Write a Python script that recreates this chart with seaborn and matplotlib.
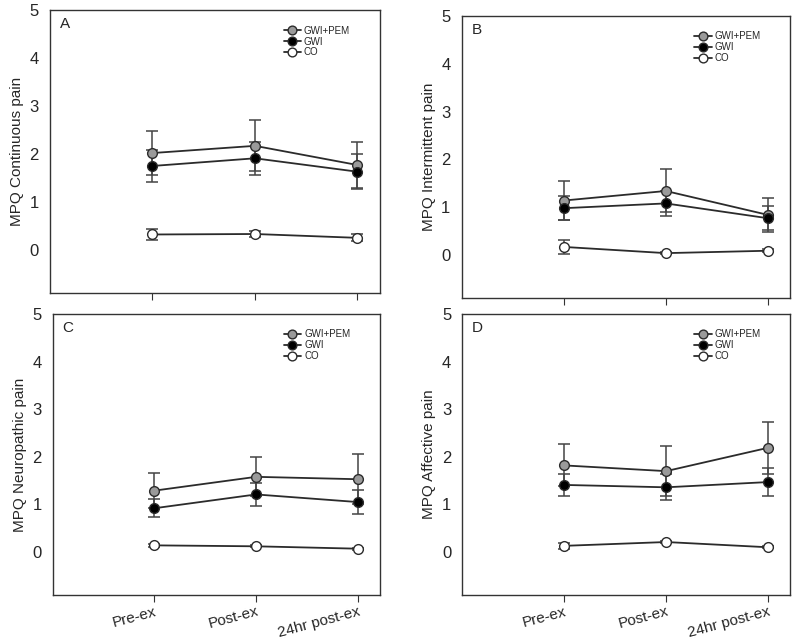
import matplotlib
matplotlib.use("Agg")
import matplotlib.pyplot as plt
import seaborn as sns
import pandas as pd

# time points and groups
timepoints = ["Pre-ex", "Post-ex", "24hr post-ex"]
groups = ["GWI+PEM", "GWI", "CO"]

# panel A - continuous pain (mean, SE)
cont_mean = {"GWI+PEM": [2.02, 2.17, 1.77], "GWI": [1.75, 1.91, 1.63], "CO": [0.32, 0.33, 0.25]}
cont_se = {"GWI+PEM": [0.46, 0.53, 0.47], "GWI": [0.33, 0.35, 0.36], "CO": [0.12, 0.07, 0.07]}

# panel B - intermittent pain
inter_mean = {"GWI+PEM": [1.14, 1.34, 0.84], "GWI": [0.98, 1.08, 0.77], "CO": [0.17, 0.04, 0.09]}
inter_se = {"GWI+PEM": [0.40, 0.45, 0.36], "GWI": [0.25, 0.27, 0.25], "CO": [0.14, 0.02, 0.03]}

# panel C - neuropathic pain
neuro_mean = {"GWI+PEM": [1.29, 1.58, 1.53], "GWI": [0.92, 1.21, 1.05], "CO": [0.14, 0.12, 0.07]}
neuro_se = {"GWI+PEM": [0.37, 0.41, 0.52], "GWI": [0.19, 0.24, 0.26], "CO": [0.03, 0.02, 0.02]}

# panel D - affective pain
affect_mean = {"GWI+PEM": [1.82, 1.70, 2.19], "GWI": [1.41, 1.36, 1.47], "CO": [0.13, 0.21, 0.10]}
affect_se = {"GWI+PEM": [0.44, 0.53, 0.55], "GWI": [0.24, 0.27, 0.30], "CO": [0.07, 0.03, 0.02]}

panels = [
    ("A", "MPQ Continuous pain", cont_mean, cont_se),
    ("B", "MPQ Intermittent pain", inter_mean, inter_se),
    ("C", "MPQ Neuropathic pain", neuro_mean, neuro_se),
    ("D", "MPQ Affective pain", affect_mean, affect_se),
]

face = {"GWI+PEM": "#9a9a9a", "GWI": "#000000", "CO": "#ffffff"}
line_col = "#2b2b2b"

sns.set_style("white")
plt.rcParams["font.family"] = ["Liberation Sans", "DejaVu Sans"]

fig = plt.figure(figsize=(8, 6.41), dpi=100)
boxes = [
    [0.0625, 0.543, 0.4125, 0.441],
    [0.577, 0.535, 0.411, 0.440],
    [0.066, 0.072, 0.409, 0.438],
    [0.578, 0.072, 0.410, 0.438],
]

for i, (letter, ylab, means, ses) in enumerate(panels):
    ax = fig.add_axes(boxes[i])
    rows = []
    for g in groups:
        for j, t in enumerate(timepoints):
            rows.append({"x": j, "value": means[g][j], "se": ses[g][j], "group": g})
    df = pd.DataFrame(rows)

    for g in groups:
        sub = df[df["group"] == g]
        ax.errorbar(sub["x"], sub["value"], yerr=sub["se"], fmt="none",
                    ecolor="#444444", elinewidth=1.1, capsize=4, capthick=1.1, zorder=1)
    for g in groups:
        sub = df[df["group"] == g]
        sns.lineplot(data=sub, x="x", y="value", ax=ax, color=line_col, linewidth=1.3,
                     marker="o", markersize=7, markerfacecolor=face[g],
                     markeredgecolor=line_col, markeredgewidth=1.0, label=g, zorder=3)

    ax.set_xlim(-1.0, 2.22)
    ax.set_ylim(-0.9, 5)
    ax.set_yticks([0, 1, 2, 3, 4, 5])
    ax.set_xticks([0, 1, 2])
    if i >= 2:
        ax.set_xticklabels(timepoints, rotation=15, fontsize=11, ha="right", va="top",
                           rotation_mode="anchor")
    else:
        ax.set_xticklabels([])
    ax.set_xlabel("")
    ax.set_ylabel(ylab, fontsize=11)
    ax.tick_params(axis="y", length=0, labelsize=12, pad=8)
    ax.tick_params(axis="x", direction="out", length=5, color="#333333", bottom=True, pad=2)
    for s in ax.spines.values():
        s.set_color("#333333")
        s.set_linewidth(1.0)
    ax.text(0.03, 0.975, letter, transform=ax.transAxes, fontsize=11, va="top", ha="left")
    ax.legend(loc="upper right", bbox_to_anchor=(0.93, 0.97), frameon=False,
              fontsize=7, handlelength=1.8, handletextpad=0.3, labelspacing=0.1,
              borderaxespad=0.3, markerscale=0.9)

fig.savefig("out.png", dpi=100)
